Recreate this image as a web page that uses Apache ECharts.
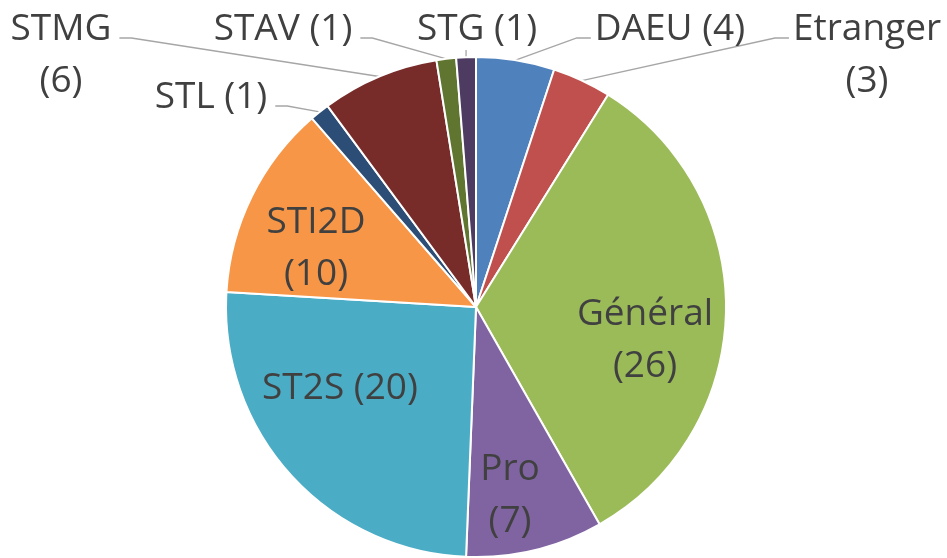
<html>
    <head>
        <meta charset="utf-8">
        <script src="https://cdn.jsdelivr.net/npm/echarts@6/dist/echarts.min.js"></script>
    </head>
    <body>
        <style>
            html, body, #main {
                width: 100%;
                height: 100%;
                margin: 0;
                background: #fff;
            }
        </style>
        <div id='main'></div>
        <script>
        // data, clockwise from 12 o'clock
        var categories = ['DAEU', 'Etranger', 'Général', 'Pro', 'ST2S', 'STI2D', 'STL', 'STMG', 'STAV', 'STG'];
        var values = [4, 3, 26, 7, 20, 10, 1, 6, 1, 1];
        var colors = ['#4F81BD', '#C0504D', '#9BBB59', '#8064A2', '#4BACC6', '#F79646',
                      '#2C4D75', '#772C2A', '#5F7530', '#4D3B62'];

        // where Excel put each label (centre of the text block)
        var labelPlace = {
            'DAEU':     {x: 670, y: 29, side: 'right'},
            'Etranger': {x: 867, y: 55, wrap: true, side: 'right'},
            'Général':  {x: 645, y: 340, wrap: true},
            'Pro':      {x: 510, y: 495, wrap: true},
            'ST2S':     {x: 340, y: 388},
            'STI2D':    {x: 316, y: 248, wrap: true},
            'STL':      {x: 211, y: 97, side: 'left'},
            'STMG':     {x: 61, y: 55, wrap: true, side: 'left'},
            'STAV':     {x: 283, y: 29, side: 'left'},
            'STG':      {x: 477, y: 29, side: 'down'}
        };

        var cx = 476, cy = 307, R = 250, LH = 52;
        var total = 0;
        for (var i = 0; i < values.length; i++) total += values[i];

        // mid angle of a slice (clockwise from top, radians)
        function midAngle(idx) {
            var before = 0;
            for (var k = 0; k < idx; k++) before += values[k];
            return (before + values[idx] / 2) / total * Math.PI * 2;
        }

        var dataOne = [];
        for (var i = 0; i < categories.length; i++) {
            var p = labelPlace[categories[i]];
            dataOne.push({
                name: categories[i],
                value: values[i],
                itemStyle: {color: colors[i]},
                label: {position: p.side ? 'outside' : 'inside'},
                labelLine: {show: !!p.side}
            });
        }

        var chart = echarts.init(document.getElementById('main'));
        var option = {
            animation: false,
            series: [{
                type: 'pie',
                center: [cx, cy],
                radius: R,
                startAngle: 90,
                clockwise: true,
                avoidLabelOverlap: false,
                emphasis: {scale: false},
                itemStyle: {borderColor: '#fff', borderWidth: 2},
                label: {
                    fontFamily: 'Open Sans',
                    fontSize: 37,
                    color: '#404040',
                    lineHeight: LH,
                    align: 'center',
                    formatter: function (params) {
                        var p = labelPlace[params.name];
                        return params.name + (p.wrap ? '\n' : ' ') + '(' + params.value + ')';
                    }
                },
                labelLine: {
                    lineStyle: {color: '#A6A6A6', width: 1.3}
                },
                labelLayout: function (params) {
                    var name = categories[params.dataIndex];
                    var p = labelPlace[name];
                    var out = {x: p.x, y: p.y, align: 'center', verticalAlign: 'middle'};
                    if (p.side) {
                        var a = midAngle(params.dataIndex);
                        var ax = cx + R * Math.sin(a), ay = cy - R * Math.cos(a);
                        var w = params.labelRect.width;
                        var firstLine = p.wrap ? p.y - LH / 2 : p.y;
                        var ly = firstLine + 9;
                        var pts;
                        if (p.side === 'left') {
                            var ex = p.x + w / 2 + 8;
                            pts = [[ax, ay], [ex + 12, ly], [ex, ly]];
                        } else if (p.side === 'right') {
                            var ex = p.x - w / 2 - 4;
                            pts = [[ax, ay], [ex - 14, ly], [ex, ly]];
                        } else {
                            pts = [[ax, ay], [ax, ay - 4], [ax, p.y + 21]];
                        }
                        out.labelLinePoints = pts;
                    }
                    return out;
                },
                data: dataOne
            }]
        };
        chart.setOption(option);
        window.onresize = chart.resize;
        </script>
    </body>
</html>
